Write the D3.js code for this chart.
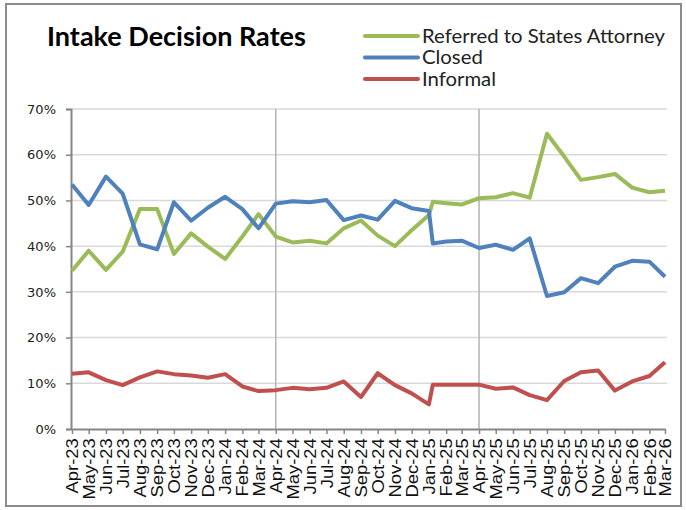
<!DOCTYPE html>
<html>
  <head>
    <meta charset="utf-8">
    <title>Intake Decision Rates</title>
    <script src="https://d3js.org/d3.v7.min.js"></script>
    <style>
      body { margin: 0; background: #fff; }
    </style>
  </head>
  <body>
    <script>
        // data (percent); Jan-25 has a second reading a week in
        var dates = ["2023-04-01","2023-05-01","2023-06-01","2023-07-01","2023-08-01","2023-09-01",
                     "2023-10-01","2023-11-01","2023-12-01","2024-01-01","2024-02-01","2024-03-01",
                     "2024-04-01","2024-05-01","2024-06-01","2024-07-01","2024-08-01","2024-09-01",
                     "2024-10-01","2024-11-01","2024-12-01","2025-01-01","2025-01-08","2025-02-01",
                     "2025-03-01","2025-04-01","2025-05-01","2025-06-01","2025-07-01","2025-08-01",
                     "2025-09-01","2025-10-01","2025-11-01","2025-12-01","2026-01-01","2026-02-01",
                     "2026-03-01"];
        var referredRate = [34.6, 39.0, 34.8, 38.8, 48.1, 48.1, 38.3, 42.8, 39.9, 37.2, 42.1, 47.0,
                        42.1, 40.8, 41.2, 40.6, 43.9, 45.6, 42.3, 40.0, 43.5, 46.8, 49.7, 49.4,
                        49.1, 50.5, 50.7, 51.6, 50.6, 64.6, 59.6, 54.5, 55.1, 55.8, 52.8, 51.8, 52.1];
        var closedRate = [53.5, 49.0, 55.2, 51.5, 40.4, 39.3, 49.6, 45.6, 48.4, 50.8, 48.1, 43.9,
                      49.3, 49.8, 49.6, 50.1, 45.7, 46.7, 45.8, 49.9, 48.3, 47.7, 40.6, 41.0,
                      41.2, 39.6, 40.3, 39.2, 41.7, 29.1, 29.9, 33.0, 31.9, 35.5, 36.8, 36.6, 33.3];
        var informalRate = [12.1, 12.4, 10.7, 9.6, 11.3, 12.6, 12.0, 11.7, 11.2, 12.0, 9.3, 8.3,
                        8.5, 9.0, 8.7, 9.0, 10.4, 7.0, 12.2, 9.6, 7.8, 5.4, 9.7, 9.7,
                        9.7, 9.7, 8.8, 9.1, 7.4, 6.3, 10.5, 12.4, 12.8, 8.4, 10.4, 11.6, 14.6];
        var yTicks = [0, 10, 20, 30, 40, 50, 60, 70];
        var yearLines = ["2024-04-01", "2025-04-01"];
        var seriesNames = ["Referred to States Attorney", "Closed", "Informal"];
        var seriesColors = ["#9bbb59", "#4f81bd", "#c0504d"];

        var parse = d3.timeParse("%Y-%m-%d");
        var fmt = d3.timeFormat("%b-%y");

        var width = 686, height = 510;
        var plot = {left: 72, right: 665, top: 109, bottom: 429};

        var svg = d3.select("body").append("svg")
            .attr("width", width)
            .attr("height", height);

        // outer frame
        svg.append("rect")
            .attr("x", 6).attr("y", 4)
            .attr("width", 675).attr("height", 502)
            .attr("fill", "none")
            .attr("stroke", "#8c8c8c")
            .attr("stroke-width", 2);

        var x = d3.scaleTime()
            .domain([parse(dates[0]), parse(dates[dates.length - 1])])
            .range([plot.left, plot.right]);
        var y = d3.scaleLinear()
            .domain([0, 70])
            .range([plot.bottom, plot.top]);

        // horizontal gridlines
        svg.append("g")
            .selectAll("line")
            .data(yTicks.slice(1))
            .enter().append("line")
            .attr("x1", plot.left).attr("x2", plot.right + 2)
            .attr("y1", function(d) { return y(d); })
            .attr("y2", function(d) { return y(d); })
            .attr("stroke", "#d9d9d9")
            .attr("stroke-width", 1.5);

        // year separators
        svg.append("g")
            .selectAll("line")
            .data(yearLines)
            .enter().append("line")
            .attr("x1", function(d) { return x(parse(d)); })
            .attr("x2", function(d) { return x(parse(d)); })
            .attr("y1", plot.top).attr("y2", plot.bottom)
            .attr("stroke", "#b3b3b3")
            .attr("stroke-width", 1.5);

        // y axis
        var yAxis = svg.append("g")
            .attr("transform", "translate(" + (plot.left - 1) + ",0)")
            .call(d3.axisLeft(y).tickValues(yTicks).tickSize(5).tickPadding(10)
                .tickFormat(function(d) { return d + "%"; }));
        yAxis.select(".domain").attr("stroke", "#868686").attr("stroke-width", 2);
        yAxis.selectAll(".tick line").attr("stroke", "#868686").attr("stroke-width", 1.5);
        yAxis.selectAll("text")
            .style("font-family", "DejaVu Sans")
            .style("font-size", "13px")
            .attr("fill", "#222");

        // x axis
        var months = d3.timeMonth.range(parse(dates[0]), d3.timeMonth.offset(parse(dates[dates.length - 1]), 1));
        var xAxis = svg.append("g")
            .attr("transform", "translate(0," + plot.bottom + ")")
            .call(d3.axisBottom(x).tickValues(months).tickSize(5).tickSizeOuter(0).tickFormat(fmt));
        xAxis.select(".domain").attr("stroke", "#868686").attr("stroke-width", 2);
        xAxis.selectAll(".tick line").attr("stroke", "#868686").attr("stroke-width", 1.5);
        xAxis.selectAll("text")
            .style("font-family", "Liberation Sans")
            .style("font-size", "16px")
            .attr("fill", "#111")
            .attr("transform", "rotate(-90) scale(1.15,1)")
            .attr("x", -8)
            .attr("y", 0)
            .attr("dy", "0.35em")
            .style("text-anchor", "end");

        // lines
        var values = [referredRate, closedRate, informalRate];
        var line = d3.line()
            .x(function(d, i) { return x(parse(dates[i])); })
            .y(function(d) { return y(d); });

        values.forEach(function(v, k) {
            svg.append("path")
                .datum(v)
                .attr("d", line)
                .attr("fill", "none")
                .attr("stroke", seriesColors[k])
                .attr("stroke-width", 4)
                .attr("stroke-linejoin", "round");
        });

        // title
        svg.append("text")
            .attr("x", 47)
            .attr("y", 46)
            .style("font-family", "Lato")
            .style("font-weight", "bold")
            .style("font-size", "27px")
            .attr("fill", "#000")
            .text("Intake Decision Rates");

        // legend
        var legend = svg.append("g")
            .selectAll("g")
            .data(seriesNames)
            .enter().append("g")
            .attr("transform", function(d, i) { return "translate(365," + (36 + i * 21.5) + ")"; });
        legend.append("line")
            .attr("x1", 0).attr("x2", 53)
            .attr("stroke", function(d, i) { return seriesColors[i]; })
            .attr("stroke-width", 4)
            .attr("stroke-linecap", "round");
        legend.append("text")
            .attr("transform", "translate(57,0) scale(1.07,1)")
            .attr("dy", "0.35em")
            .style("font-family", "Lato")
            .style("font-size", "19px")
            .attr("fill", "#222")
            .text(function(d) { return d; });
    </script>
  </body>
</html>
